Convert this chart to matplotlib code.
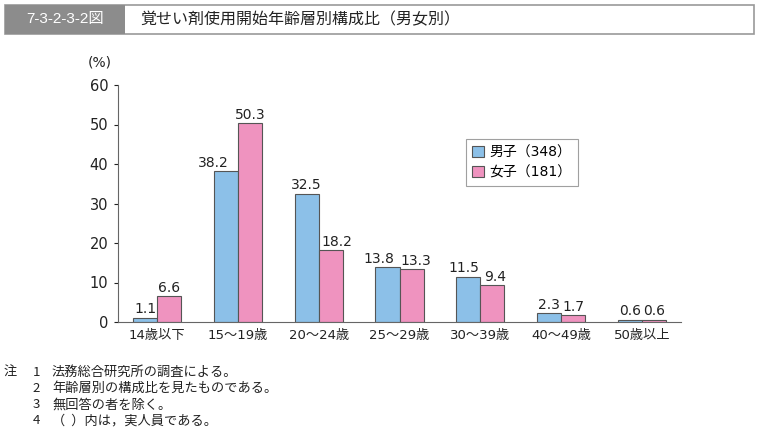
import matplotlib.pyplot as plt
from matplotlib.patches import Rectangle
import numpy as np

plt.rcParams['font.family'] = ['DejaVu Sans', 'Noto Sans CJK JP']

categories = ['14歳以下', '15～19歳', '20～24歳', '25～29歳', '30～39歳', '40～49歳', '50歳以上']
male = [1.1, 38.2, 32.5, 13.8, 11.5, 2.3, 0.6]
female = [6.6, 50.3, 18.2, 13.3, 9.4, 1.7, 0.6]
labels = ['男子（348）', '女子（181）']
notes = ['法務総合研究所の調査による。',
         '年齢層別の構成比を見たものである。',
         '無回答の者を除く。',
         '（  ）内は，実人員である。']

blue = '#8cc0e8'
pink = '#ef93bf'
edge = '#555555'
txt = '#222222'
cjk = ['Noto Sans CJK JP', 'DejaVu Sans']

# sideways nudges for value labels that would collide (series, group) -> dx
nudge = {(0, 1): -0.15, (1, 2): 0.075, (0, 3): -0.11, (1, 3): 0.05,
         (0, 4): -0.05, (1, 4): 0.04}

fig = plt.figure(figsize=(7.59, 4.34), dpi=100)

# title bar
fig.patches.append(Rectangle((5 / 759, 1 - 34 / 434), 749 / 759, 29 / 434,
                             transform=fig.transFigure, facecolor='white',
                             edgecolor='#999999', linewidth=1.2))
fig.patches.append(Rectangle((5 / 759, 1 - 34 / 434), 120 / 759, 29 / 434,
                             transform=fig.transFigure, facecolor='#8c8c8c',
                             edgecolor='none'))
fig.text(65 / 759, 1 - 19.5 / 434, '7-3-2-3-2図', color='white', fontsize=11,
         ha='center', va='center', family=['Liberation Sans', 'Noto Sans CJK JP'])
fig.text(140 / 759, 1 - 19.5 / 434, '覚せい剤使用開始年齢層別構成比（男女別）',
         color=txt, fontsize=11.5, ha='left', va='center', family=cjk)

ax = fig.add_axes([118 / 759, 1 - 322 / 434, 563 / 759, 237 / 434])
x = np.arange(len(categories))
w = 0.297
b1 = ax.bar(x - w / 2, male, w, color=blue, edgecolor=edge, linewidth=0.8, label=labels[0])
b2 = ax.bar(x + w / 2, female, w, color=pink, edgecolor=edge, linewidth=0.8, label=labels[1])
for s, (bars, vals) in enumerate(((b1, male), (b2, female))):
    for i, (r, v) in enumerate(zip(bars, vals)):
        ax.text(r.get_x() + r.get_width() / 2 + nudge.get((s, i), 0), v + 0.3,
                f'{v:.1f}', ha='center', va='bottom', fontsize=10, color=txt)

ax.set_xlim(-0.483, 6.483)
ax.set_ylim(0, 60)
ax.set_yticks(range(0, 61, 10))
ax.set_xticks(x)
ax.set_xticklabels(categories)
ax.tick_params(axis='y', labelsize=10.5, length=3, width=0.8, colors=txt, pad=4)
ax.tick_params(axis='x', labelsize=9.5, length=0, colors=txt, pad=5)
for s in ('top', 'right'):
    ax.spines[s].set_visible(False)
for s in ('left', 'bottom'):
    ax.spines[s].set_color('#666666')
    ax.spines[s].set_linewidth(0.8)
ax.text(-0.032, 1.097, '(%)', transform=ax.transAxes, fontsize=10,
        ha='center', va='center', color=txt)

leg = ax.legend(loc='upper left', bbox_to_anchor=((466 - 118) / 563, (322 - 139) / 237),
                borderaxespad=0, fontsize=10, frameon=True, fancybox=False,
                handlelength=0.85, handleheight=0.85, handletextpad=0.4,
                borderpad=0.45, labelspacing=0.45)
leg.get_frame().set_edgecolor('#888888')
leg.get_frame().set_linewidth(0.8)

# notes
ys = [372, 388, 405, 421]
fig.text(10 / 759, 1 - ys[0] / 434, '注', fontsize=9.5, ha='center', va='center',
         color=txt, family=cjk)
for i, (yy, t) in enumerate(zip(ys, notes)):
    fig.text(36 / 759, 1 - yy / 434, str(i + 1), fontsize=9.5, ha='center', va='center',
             color=txt, family=cjk)
    fig.text(52 / 759, 1 - yy / 434, t, fontsize=9.5, ha='left', va='center',
             color=txt, family=cjk)

fig.savefig('out.png', dpi=100)
